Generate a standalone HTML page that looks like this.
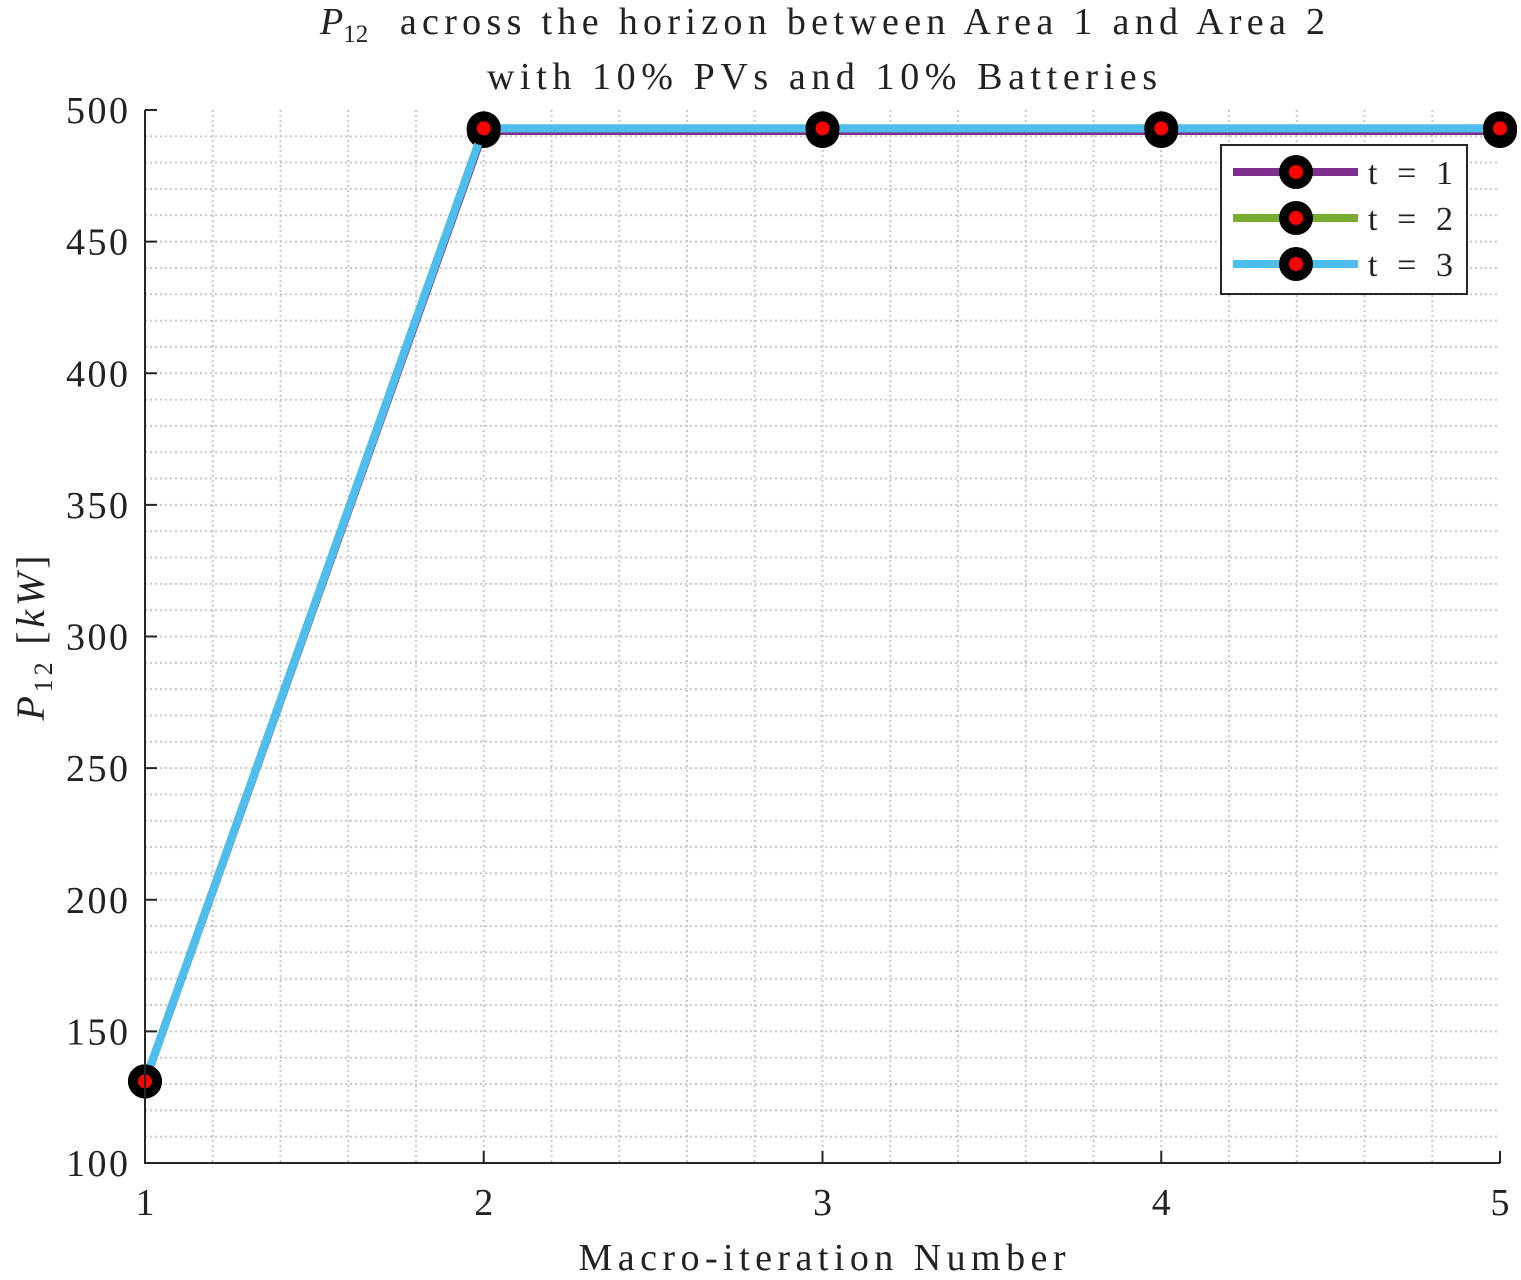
<!DOCTYPE html>
<html><head><meta charset="utf-8"><style>
body{margin:0;background:#fff}
svg text{font-family:"Liberation Serif",serif;fill:#222}
</style></head><body>
<svg id="c" width="1521" height="1275" xmlns="http://www.w3.org/2000/svg">
<g id="grid"></g>
<g id="series"></g>
<g id="axes"></g>
<text x="320" y="34" font-size="38"><tspan font-style="italic">P</tspan><tspan font-size="25" dy="8">12</tspan><tspan dy="-8" textLength="940" lengthAdjust="spacing" x="385"> across the horizon between Area 1 and Area 2</tspan></text>
<text x="822" y="89" font-size="38" text-anchor="middle" textLength="670" lengthAdjust="spacing">with 10% PVs and 10% Batteries</text>
<text x="822" y="1270" font-size="38" text-anchor="middle" textLength="487" lengthAdjust="spacing">Macro-iteration Number</text>
<text transform="translate(44,638) rotate(-90)" font-size="40" text-anchor="middle" textLength="165" lengthAdjust="spacing"><tspan font-style="italic">P</tspan><tspan font-size="26" dy="8">12</tspan><tspan dy="-8"> [</tspan><tspan font-style="italic">kW</tspan>]</text>
<g id="legend"></g>
</svg>
<script>
const iterations=[1,2,3,4,5];
const t1=[131,492,492,492,492];
const t2=[131,493,493,493,493];
const t3=[131,493,493,493,493];
const seriesNames=["t = 1","t = 2","t = 3"];
const colors=["#7E2F8E","#77AC30","#4DBEEE"];
const xTicks=[1,2,3,4,5];
const yTicks=[100,150,200,250,300,350,400,450,500];
const NS="http://www.w3.org/2000/svg";
const X0=145,X1=1500,Y0=1163,Y1=110;
const xs=v=>X0+(v-1)/(5-1)*(X1-X0);
const ys=v=>Y0-(v-100)/(500-100)*(Y0-Y1);
function mk(tag,attrs,parent){const e=document.createElementNS(NS,tag);for(const k in attrs)e.setAttribute(k,attrs[k]);parent.appendChild(e);return e;}
const grid=document.getElementById('grid'),axes=document.getElementById('axes'),ser=document.getElementById('series'),leg=document.getElementById('legend');
for(let v=1.2;v<5;v+=0.2){const l=mk('line',{x1:xs(v),x2:xs(v),y1:Y1,y2:Y0,stroke:'#c8c8c8','stroke-width':2,'stroke-dasharray':'2,3'},grid);

}
for(let v=110;v<500;v+=10){const l=mk('line',{x1:X0,x2:X1,y1:ys(v),y2:ys(v),stroke:'#c8c8c8','stroke-width':2,'stroke-dasharray':'2,3'},grid);

}
const ax=mk('path',{d:`M${X0},${Y1}V${Y0}H${X1}`,fill:'none',stroke:'#262626','stroke-width':2},axes);


xTicks.forEach(v=>{mk('line',{x1:xs(v),x2:xs(v),y1:Y0,y2:Y0-12,stroke:'#262626','stroke-width':2},axes);
const t=mk('text',{x:xs(v),y:Y0+52,'font-size':38,'text-anchor':'middle'},axes);t.textContent=v;

});
yTicks.forEach(v=>{mk('line',{x1:X0,x2:X0+12,y1:ys(v),y2:ys(v),stroke:'#262626','stroke-width':2},axes);
const t=mk('text',{x:X0-17,y:ys(v)+13,'font-size':38,'text-anchor':'end',textLength:62,lengthAdjust:'spacing'},axes);t.textContent=v;

});
function marker(x,y,p){mk('circle',{cx:x,cy:y,r:17,fill:'#000'},p);mk('circle',{cx:x,cy:y,r:7,fill:'#f00'},p);}
[t1,t2,t3].forEach((d,i)=>{
const g=mk('g',{},ser);


mk('polyline',{points:d.map((v,j)=>xs(iterations[j])+','+ys(v)).join(' '),fill:'none',stroke:colors[i],'stroke-width':8},g);
d.forEach((v,j)=>marker(xs(iterations[j]),ys(v),g));
});
mk('rect',{x:1221,y:145,width:246,height:149,fill:'#fff',stroke:'#262626','stroke-width':2},leg);
seriesNames.forEach((n,i)=>{const y=172+i*46;
const g=mk('g',{},leg);


mk('line',{x1:1233,x2:1358,y1:y,y2:y,stroke:colors[i],'stroke-width':8},g);
marker(1296,y,g);
const t=mk('text',{x:1368,y:y+12,'font-size':34,textLength:85,lengthAdjust:'spacing'},g);t.textContent=n;});
</script>
</body></html>
